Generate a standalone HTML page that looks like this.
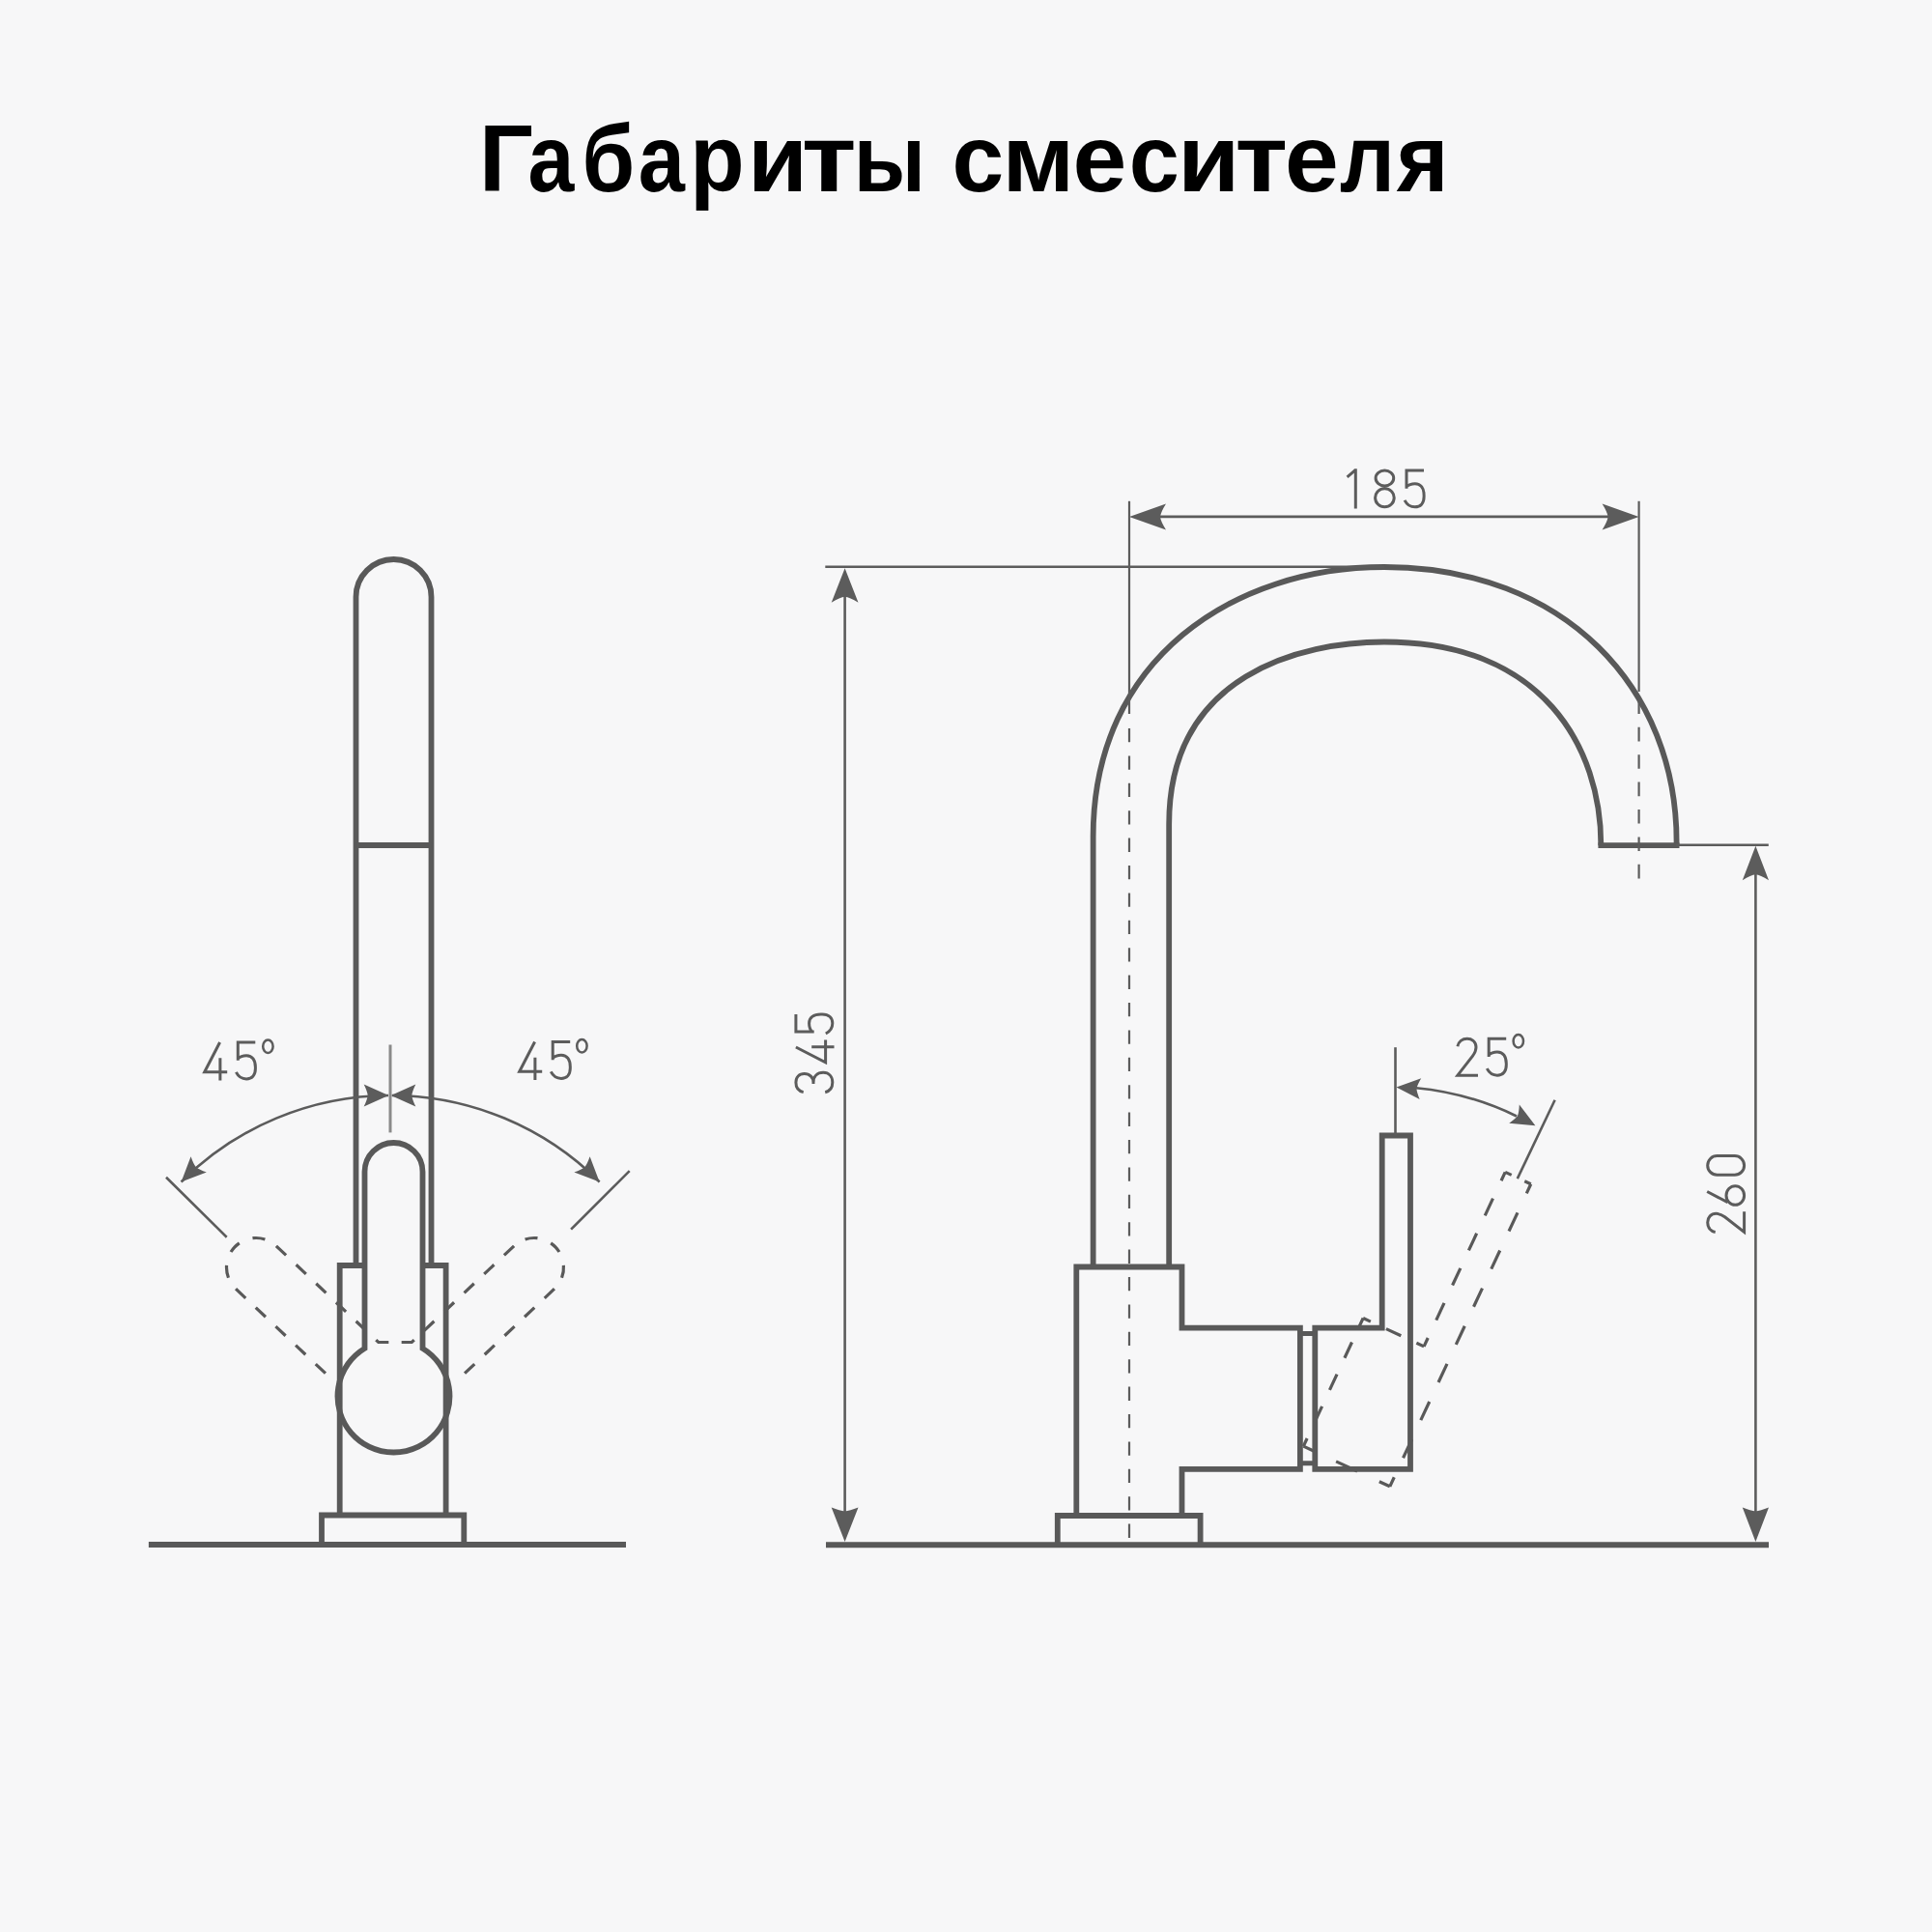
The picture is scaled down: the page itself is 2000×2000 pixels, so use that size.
<!DOCTYPE html>
<html><head><meta charset="utf-8"><title>Габариты смесителя</title>
<style>html,body{margin:0;padding:0;background:#f7f7f8;width:2000px;height:2000px;overflow:hidden}svg{display:block}</style>
</head><body>
<svg width="2000" height="2000" viewBox="0 0 2000 2000"><rect x="0" y="0" width="2000" height="2000" fill="#f7f7f8"/>
<g font-family="Liberation Sans, sans-serif" font-weight="bold" font-size="98" fill="#000">
<text transform="translate(495.71,197.6) scale(1.0119,1)">Г</text>
<text transform="translate(546.42,197.6) scale(0.8776,1)">а</text>
<text transform="translate(602.52,197.6) scale(0.9026,1)">б</text>
<text transform="translate(660.8,197.6) scale(0.8834,1)">а</text>
<text transform="translate(714.3,197.6) scale(0.9416,1)">р</text>
<text transform="translate(774.04,197.6) scale(1.0290,1)">и</text>
<text transform="translate(829.71,197.6) scale(1.1846,1)">т</text>
<text transform="translate(883.72,197.6) scale(0.8863,1)">ы</text>
<text transform="translate(985.54,197.6) scale(0.9859,1)">с</text>
<text transform="translate(1037.53,197.6) scale(1.0306,1)">м</text>
<text transform="translate(1110.59,197.6) scale(1.0236,1)">е</text>
<text transform="translate(1168.75,197.6) scale(0.9566,1)">с</text>
<text transform="translate(1218.96,197.6) scale(1.0698,1)">и</text>
<text transform="translate(1278.43,197.6) scale(1.1377,1)">т</text>
<text transform="translate(1329.99,197.6) scale(1.0236,1)">е</text>
<text transform="translate(1386.9,197.6) scale(0.9156,1)">л</text>
<text transform="translate(1445.7,197.6) scale(0.9378,1)">я</text>
</g>
<path d="M368.5,1310 V618 A39,39 0 0 1 446.5,618 V1310" fill="none" stroke="#595959" stroke-width="5.8"/>
<path d="M368.5,875 H446.5" fill="none" stroke="#595959" stroke-width="5.8"/>
<path d="M351.7,1568.5 V1310 H377.5 M437.4,1310 H461.6 V1568.5" fill="none" stroke="#595959" stroke-width="5.8" stroke-linejoin="miter"/>
<path d="M377.5,1395.86 V1213 A30,30 0 0 1 437.5,1213 V1395.86 A58,58 0 1 1 377.5,1395.86 Z" fill="none" stroke="#595959" stroke-width="5.8"/>
<path d="M333,1598.5 V1568.5 H480.3 V1598.5" fill="none" stroke="#595959" stroke-width="5.8"/>
<path d="M153.9,1599 H648" fill="none" stroke="#595959" stroke-width="6"/>
<path d="M285.92,1289.8 L391.71,1389.5 H409" fill="none" stroke="#595959" stroke-width="3.2" stroke-dasharray="14 14.4"/>
<path d="M244.08,1334.2 L343,1427.41" fill="none" stroke="#595959" stroke-width="3.2" stroke-dasharray="14 14.4"/>
<path d="M244.08,1334.2 A30.5,30.5 0 0 1 285.92,1289.8" fill="none" stroke="#595959" stroke-width="3.2" stroke-dasharray="13 14.6" stroke-dashoffset="13.8"/>
<path d="M532.08,1289.8 L426.29,1389.5 H409" fill="none" stroke="#595959" stroke-width="3.2" stroke-dasharray="14 14.4"/>
<path d="M573.92,1334.2 L475,1427.41" fill="none" stroke="#595959" stroke-width="3.2" stroke-dasharray="14 14.4"/>
<path d="M573.92,1334.2 A30.5,30.5 0 0 0 532.08,1289.8" fill="none" stroke="#595959" stroke-width="3.2" stroke-dasharray="13 14.6" stroke-dashoffset="13.8"/>
<path d="M172,1218.8 L234.7,1280.7 M651.7,1212.1 L591.1,1272.7" fill="none" stroke="#5c5c5c" stroke-width="2.6"/>
<path d="M187.6,1223.5 A306,306 0 0 1 402,1134 M406,1134 A306,306 0 0 1 620.6,1223.5" fill="none" stroke="#5c5c5c" stroke-width="2.6"/>
<path d="M402.3,1134 L376.7,1145.5 Q380.3,1138.03 380.7,1134 Q380.3,1129.97 376.7,1122.5 Z" fill="#5c5c5c"/>
<path d="M404.7,1134 L430.3,1122.5 Q426.7,1129.97 426.3,1134 Q426.7,1138.03 430.3,1145.5 Z" fill="#5c5c5c"/>
<path d="M187.6,1223.5 L197.57,1197.27 Q200.31,1205.1 202.87,1208.23 Q206,1210.79 213.83,1213.53 Z" fill="#5c5c5c"/>
<path d="M620.6,1223.5 L594.37,1213.53 Q602.2,1210.79 605.33,1208.23 Q607.89,1205.1 610.63,1197.27 Z" fill="#5c5c5c"/>
<path d="M404,1081.5 V1172.4" fill="none" stroke="#8a8a8a" stroke-width="3"/>
<path d="M17.6,1.7 L1.7,32.4 H25.2 M17.9,18 V41.3" transform="translate(210,1077.3)" fill="none" stroke="#5c5c5c" stroke-width="3.0"/>
<path d="M21.2,1.7 H3.2 V20.5 M3.2,18.5 C5.5,16.3 8.5,15.4 12,15.4 C18,15.4 21.3,20 21.3,27.5 V29 C21.3,36 17.5,39.6 12,39.6 C7.5,39.6 3.6,37.2 1.3,32.6" transform="translate(243.1,1077.3)" fill="none" stroke="#5c5c5c" stroke-width="3.0"/>
<ellipse cx="277.4" cy="1083.3" rx="5.2" ry="6.8" fill="none" stroke="#5c5c5c" stroke-width="2.5"/>
<path d="M17.6,1.7 L1.7,32.4 H25.2 M17.9,18 V41.3" transform="translate(536,1076.8)" fill="none" stroke="#5c5c5c" stroke-width="3.0"/>
<path d="M21.2,1.7 H3.2 V20.5 M3.2,18.5 C5.5,16.3 8.5,15.4 12,15.4 C18,15.4 21.3,20 21.3,27.5 V29 C21.3,36 17.5,39.6 12,39.6 C7.5,39.6 3.6,37.2 1.3,32.6" transform="translate(569,1076.8)" fill="none" stroke="#5c5c5c" stroke-width="3.0"/>
<ellipse cx="602.4" cy="1082.7" rx="5.2" ry="6.8" fill="none" stroke="#5c5c5c" stroke-width="2.5"/>
<path d="M1131.62,1311.5 V866.08 C1131.62,681.36 1277.78,587 1433,587 C1620.19,587 1735.57,712.78 1735.57,870.94 V875.2" fill="none" stroke="#595959" stroke-width="5.8"/>
<path d="M1210.18,1311.5 V853.21 C1210.18,697.47 1347.62,664.5 1433,664.5 C1598.4,664.5 1657.33,775.08 1657.33,874.96 V875.2" fill="none" stroke="#595959" stroke-width="5.8"/>
<path d="M1657.33,875.2 H1735.57" fill="none" stroke="#595959" stroke-width="5.8" stroke-linecap="square"/>
<path d="M1114.3,1569 V1311.5 H1223.5 V1374.6 H1345.9 V1520.9 H1223.5 V1569" fill="none" stroke="#595959" stroke-width="5.8"/>
<path d="M1345.9,1380.5 H1361.3 M1345.9,1514.8 H1361.3" fill="none" stroke="#595959" stroke-width="5"/>
<path d="M1361.3,1374.6 H1430.7 V1175.5 H1460 V1520.9 H1361.3 Z" fill="none" stroke="#595959" stroke-width="5.8"/>
<path d="M1094.8,1599 V1569 H1242.6 V1599" fill="none" stroke="#595959" stroke-width="5.8"/>
<path d="M855,1599.2 H1831" fill="none" stroke="#595959" stroke-width="6"/>
<g transform="rotate(25 1409 1482)" fill="none" stroke="#595959" stroke-width="3.2">
<path d="M1361.3,1374.6 L1430.7,1374.6" stroke-dasharray="17 17.7" stroke-dashoffset="8.5"/>
<path d="M1430.7,1374.6 L1430.7,1175.5" stroke-dasharray="19.51 20.31" stroke-dashoffset="9.76"/>
<path d="M1430.7,1175.5 L1460,1175.5" stroke-dasharray="14.36 14.94" stroke-dashoffset="7.18"/>
<path d="M1460,1175.5 L1460,1520.9" stroke-dasharray="21.16 22.02" stroke-dashoffset="10.58"/>
<path d="M1460,1520.9 L1361.3,1520.9" stroke-dasharray="24.18 25.17" stroke-dashoffset="12.09"/>
<path d="M1361.3,1520.9 L1361.3,1374.6" stroke-dasharray="17.92 18.65" stroke-dashoffset="8.96"/>
</g>
<path d="M1169,518.8 V739" fill="none" stroke="#5c5c5c" stroke-width="2.2"/>
<path d="M1169,754 V1592" fill="none" stroke="#5c5c5c" stroke-width="2.2" stroke-dasharray="14.3 14.1"/>
<path d="M1696.6,518.8 V716" fill="none" stroke="#5c5c5c" stroke-width="2.2"/>
<path d="M1696.6,724.4 V911" fill="none" stroke="#5c5c5c" stroke-width="2.2" stroke-dasharray="14.6 13.8"/>
<path d="M1190,534.9 H1676" fill="none" stroke="#5c5c5c" stroke-width="2.6"/>
<path d="M1169,534.9 L1207,521.4 Q1201.6,530.17 1201,534.9 Q1201.6,539.62 1207,548.4 Z" fill="#5c5c5c"/>
<path d="M1696.6,534.9 L1658.6,548.4 Q1664,539.62 1664.6,534.9 Q1664,530.17 1658.6,521.4 Z" fill="#5c5c5c"/>
<path d="M854.3,586.8 H1433" fill="none" stroke="#5c5c5c" stroke-width="2.6"/>
<path d="M874.6,610 V1575" fill="none" stroke="#5c5c5c" stroke-width="2.6"/>
<path d="M874.6,588.3 L888.5,623.8 Q879.47,618.4 874.6,617.8 Q869.74,618.4 860.7,623.8 Z" fill="#5c5c5c"/>
<path d="M874.6,1595.9 L860.7,1560.4 Q869.74,1564 874.6,1564.4 Q879.47,1564 888.5,1560.4 Z" fill="#5c5c5c"/>
<path d="M1735,874.7 H1830.8" fill="none" stroke="#5c5c5c" stroke-width="2.6"/>
<path d="M1817.4,900 V1575" fill="none" stroke="#5c5c5c" stroke-width="2.6"/>
<path d="M1817.4,875.8 L1831,911.3 Q1822.16,905.9 1817.4,905.3 Q1812.64,905.9 1803.8,911.3 Z" fill="#5c5c5c"/>
<path d="M1817.4,1595.9 L1803.8,1560.4 Q1812.64,1564 1817.4,1564.4 Q1822.16,1564 1831,1560.4 Z" fill="#5c5c5c"/>
<path d="M1444.5,1084.2 V1175.5" fill="none" stroke="#5c5c5c" stroke-width="2.6"/>
<path d="M1609.6,1138.8 L1570.8,1220.1" fill="none" stroke="#5c5c5c" stroke-width="2.6"/>
<path d="M1466,1126.2 A302,302 0 0 1 1570,1155.5" fill="none" stroke="#5c5c5c" stroke-width="2.6"/>
<path d="M1445.5,1125.4 L1471.21,1116.17 Q1467.12,1123.05 1466.45,1126.87 Q1466.58,1130.73 1469.67,1138.12 Z" fill="#5c5c5c"/>
<path d="M1589.4,1165.2 L1562.19,1162.79 Q1568.79,1158.26 1571,1155.08 Q1572.5,1151.51 1572.8,1143.51 Z" fill="#5c5c5c"/>
<path d="M4.3,8.6 L13,1.2 M13,0 V41.3" transform="translate(1390.3,485.25)" fill="none" stroke="#5c5c5c" stroke-width="3.0"/>
<path d="M11.5,1.7 C16.7,1.7 20.8,5.3 20.8,9.7 C20.8,14.1 16.7,17.7 11.5,17.7 C6.3,17.7 2.2,14.1 2.2,9.7 C2.2,5.3 6.3,1.7 11.5,1.7 Z M11.5,20.4 C16.9,20.4 21.3,24.7 21.3,30 C21.3,35.3 16.9,39.6 11.5,39.6 C6.1,39.6 1.7,35.3 1.7,30 C1.7,24.7 6.1,20.4 11.5,20.4 Z" transform="translate(1421.9,485.25)" fill="none" stroke="#5c5c5c" stroke-width="3.0"/>
<path d="M21.2,1.7 H3.2 V20.5 M3.2,18.5 C5.5,16.3 8.5,15.4 12,15.4 C18,15.4 21.3,20 21.3,27.5 V29 C21.3,36 17.5,39.6 12,39.6 C7.5,39.6 3.6,37.2 1.3,32.6" transform="translate(1452.8,485.25)" fill="none" stroke="#5c5c5c" stroke-width="3.0"/>
<path d="M1.9,9.7 C2.8,4.6 6.8,1.7 11.8,1.7 C17.3,1.7 21,5.3 21,10.5 C21,14 19.8,16.5 17.5,19.5 L1.9,39.6 H23" transform="translate(1507,1073.6)" fill="none" stroke="#5c5c5c" stroke-width="3.0"/>
<path d="M21.2,1.7 H3.2 V20.5 M3.2,18.5 C5.5,16.3 8.5,15.4 12,15.4 C18,15.4 21.3,20 21.3,27.5 V29 C21.3,36 17.5,39.6 12,39.6 C7.5,39.6 3.6,37.2 1.3,32.6" transform="translate(1538,1073.6)" fill="none" stroke="#5c5c5c" stroke-width="3.0"/>
<ellipse cx="1571.8" cy="1077.8" rx="5.2" ry="6.8" fill="none" stroke="#5c5c5c" stroke-width="2.5"/>
<path d="M2,9.5 C3,4.5 7,1.7 12,1.7 C17.5,1.7 21,5.2 21,10.5 C21,16 17.3,19.8 12,19.8 H10.5 M12,19.8 C18.5,19.8 22.3,24 22.3,30 C22.3,36 18,39.6 12,39.6 C7,39.6 3,37 1.8,32" transform="translate(822.2,1132.6) rotate(-90)" fill="none" stroke="#5c5c5c" stroke-width="3.0"/>
<path d="M17.6,1.7 L1.7,32.4 H25.2 M17.9,18 V41.3" transform="translate(822.2,1101.6) rotate(-90)" fill="none" stroke="#5c5c5c" stroke-width="3.0"/>
<path d="M21.2,1.7 H3.2 V20.5 M3.2,18.5 C5.5,16.3 8.5,15.4 12,15.4 C18,15.4 21.3,20 21.3,27.5 V29 C21.3,36 17.5,39.6 12,39.6 C7.5,39.6 3.6,37.2 1.3,32.6" transform="translate(822.2,1071.3) rotate(-90)" fill="none" stroke="#5c5c5c" stroke-width="3.0"/>
<path d="M1.9,9.7 C2.8,4.6 6.8,1.7 11.8,1.7 C17.3,1.7 21,5.3 21,10.5 C21,14 19.8,16.5 17.5,19.5 L1.9,39.6 H23" transform="translate(1766,1277.3) rotate(-90)" fill="none" stroke="#5c5c5c" stroke-width="3.0"/>
<path d="M15.5,1.2 L4.3,22.5 M11.5,21 C16.9,21 21.3,25.2 21.3,30.3 C21.3,35.4 16.9,39.6 11.5,39.6 C6.1,39.6 1.7,35.4 1.7,30.3 C1.7,25.2 6.1,21 11.5,21 Z" transform="translate(1766,1249) rotate(-90)" fill="none" stroke="#5c5c5c" stroke-width="3.0"/>
<path d="M11.5,1.7 C16.9,1.7 21.3,6.1 21.3,11.5 V29.8 C21.3,35.2 16.9,39.6 11.5,39.6 C6.1,39.6 1.7,35.2 1.7,29.8 V11.5 C1.7,6.1 6.1,1.7 11.5,1.7 Z" transform="translate(1766,1217.9) rotate(-90)" fill="none" stroke="#5c5c5c" stroke-width="3.0"/></svg>
</body></html>
